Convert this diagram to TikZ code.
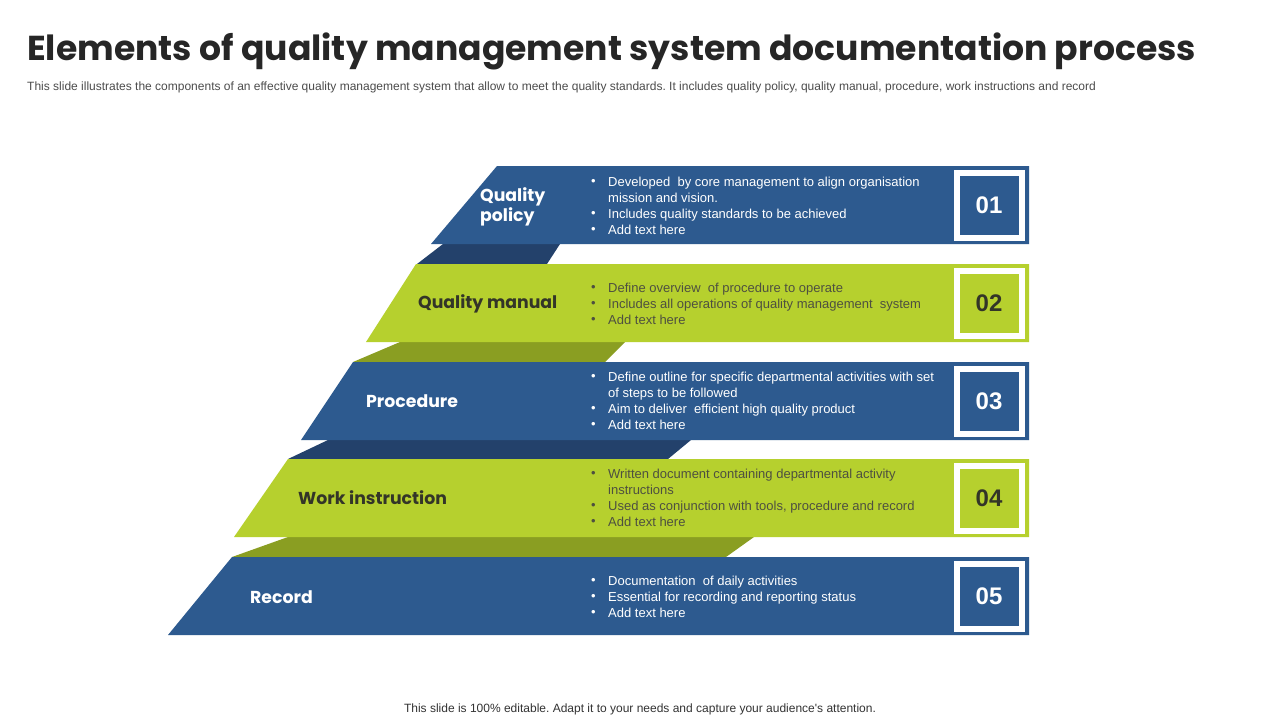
\documentclass[tikz,border=0pt]{standalone}
\usepackage{fontspec}
\setmainfont{Liberation Sans}
\newfontfamily\bodyfont{Liberation Sans}
\newfontfamily\titlefont{Poppins}
\newfontfamily\numfont{Liberation Sans}
\frenchspacing
\definecolor{qblue}{HTML}{2D5A8F}
\definecolor{qdblue}{HTML}{23416B}
\definecolor{qgreen}{HTML}{B6D02E}
\definecolor{qolive}{HTML}{8A9E22}
\definecolor{qgtext}{HTML}{4E5040}
\definecolor{qlabel}{HTML}{333528}
\tikzset{
  bul/.style={anchor=base west, inner sep=0, font=\bodyfont\fontsize{13}{16}\selectfont},
  bw/.style={bul, text=white},
  bg/.style={bul, text=qgtext},
  lab/.style={anchor=west, inner sep=0, align=left, font=\titlefont\bfseries\fontsize{17.3}{20}\selectfont},
  numbox/.style={draw=white, line width=6pt, minimum size=65pt, inner sep=0,
    font=\numfont\bfseries\fontsize{24}{24}\selectfont},
}
\newcommand\bdot{\makebox[17pt][l]{\raisebox{0.3pt}{•}}}
\newcommand\bind{\hspace*{17pt}}
\begin{document}
\begin{tikzpicture}[x=1pt,y=-1pt]
\useasboundingbox (0,0) rectangle (1280,720);
\fill[white] (0,0) rectangle (1280,720);

% title
\node[anchor=base west, inner sep=0, text=black!85, font=\titlefont\bfseries\fontsize{34.6}{40}\selectfont] (title) at (27,60) {Elements of quality management system documentation process};
\node[anchor=base west, inner sep=0, text=black!70, font=\bodyfont\fontsize{12}{13}\selectfont] (sub) at (27,90) {This slide illustrates the components of an effective quality management system that allow to meet the quality standards. It includes quality policy, quality manual, procedure, work instructions and record};

% connectors (side faces)
\fill[qdblue] (443,244) -- (560,244) -- (547,264) -- (417,264) -- cycle;
\fill[qolive] (400,342) -- (625,342) -- (605,362) -- (353,362) -- cycle;
\fill[qdblue] (328,440) -- (691,440) -- (668,459) -- (288,459) -- cycle;
\fill[qolive] (288,537) -- (754,537) -- (726,557) -- (232,557) -- cycle;

% bands
\fill[qblue]  (497,166) -- (1029,166) -- (1029,244) -- (431,244) -- cycle;
\fill[qgreen] (416,264) -- (1029,264) -- (1029,342) -- (366,342) -- cycle;
\fill[qblue]  (353,362) -- (1029,362) -- (1029,440) -- (301,440) -- cycle;
\fill[qgreen] (288,459) -- (1029,459) -- (1029,537) -- (234,537) -- cycle;
\fill[qblue]  (232,557) -- (1029,557) -- (1029,635) -- (168,635) -- cycle;

% labels
\node[lab, text=white] (l1) at (480,207) {Quality\\policy};
\node[lab, text=qlabel] (l2) at (418,304) {Quality manual};
\node[lab, text=white] (l3) at (366,401) {Procedure};
\node[lab, text=qlabel] (l4) at (298,498) {Work instruction};
\node[lab, text=white] (l5) at (250,597) {Record};

% number boxes
\node[numbox, fill=qblue, text=white] (n1) at (989,205) {01};
\node[numbox, fill=qgreen, text=qlabel] (n2) at (989,303) {02};
\node[numbox, fill=qblue, text=white] (n3) at (989,401) {03};
\node[numbox, fill=qgreen, text=qlabel] (n4) at (989,498) {04};
\node[numbox, fill=qblue, text=white] (n5) at (989,596) {05};

% bullets band 1
\node[bw] (t11) at (591,186) {\bdot Developed \ by core management to align organisation};
\node[bw] (t12) at (591,202) {\bind mission and vision.};
\node[bw] (t13) at (591,218) {\bdot Includes quality standards to be achieved};
\node[bw] (t14) at (591,234) {\bdot Add text here};
% band 2
\node[bg] (t21) at (591,292) {\bdot Define overview \ of procedure to operate};
\node[bg] (t22) at (591,308) {\bdot Includes all operations of quality management \ system};
\node[bg] (t23) at (591,324) {\bdot Add text here};
% band 3
\node[bw] (t31) at (591,381) {\bdot Define outline for specific departmental activities with set};
\node[bw] (t32) at (591,397) {\bind of steps to be followed};
\node[bw] (t33) at (591,413) {\bdot Aim to deliver \ efficient high quality product};
\node[bw] (t34) at (591,429) {\bdot Add text here};
% band 4
\node[bg] (t41) at (591,478) {\bdot Written document containing departmental activity};
\node[bg] (t42) at (591,494) {\bind instructions};
\node[bg] (t43) at (591,510) {\bdot Used as conjunction with tools, procedure and record};
\node[bg] (t44) at (591,526) {\bdot Add text here};
% band 5
\node[bw] (t51) at (591,585) {\bdot Documentation \ of daily activities};
\node[bw] (t52) at (591,601) {\bdot Essential for recording and reporting status};
\node[bw] (t53) at (591,617) {\bdot Add text here};

% footer
\node[anchor=base, inner sep=0, text=black!80, font=\bodyfont\fontsize{12}{13}\selectfont] (foot) at (640,712) {This slide is 100\% editable. Adapt it to your needs and capture your audience's attention.};
\end{tikzpicture}
\end{document}
